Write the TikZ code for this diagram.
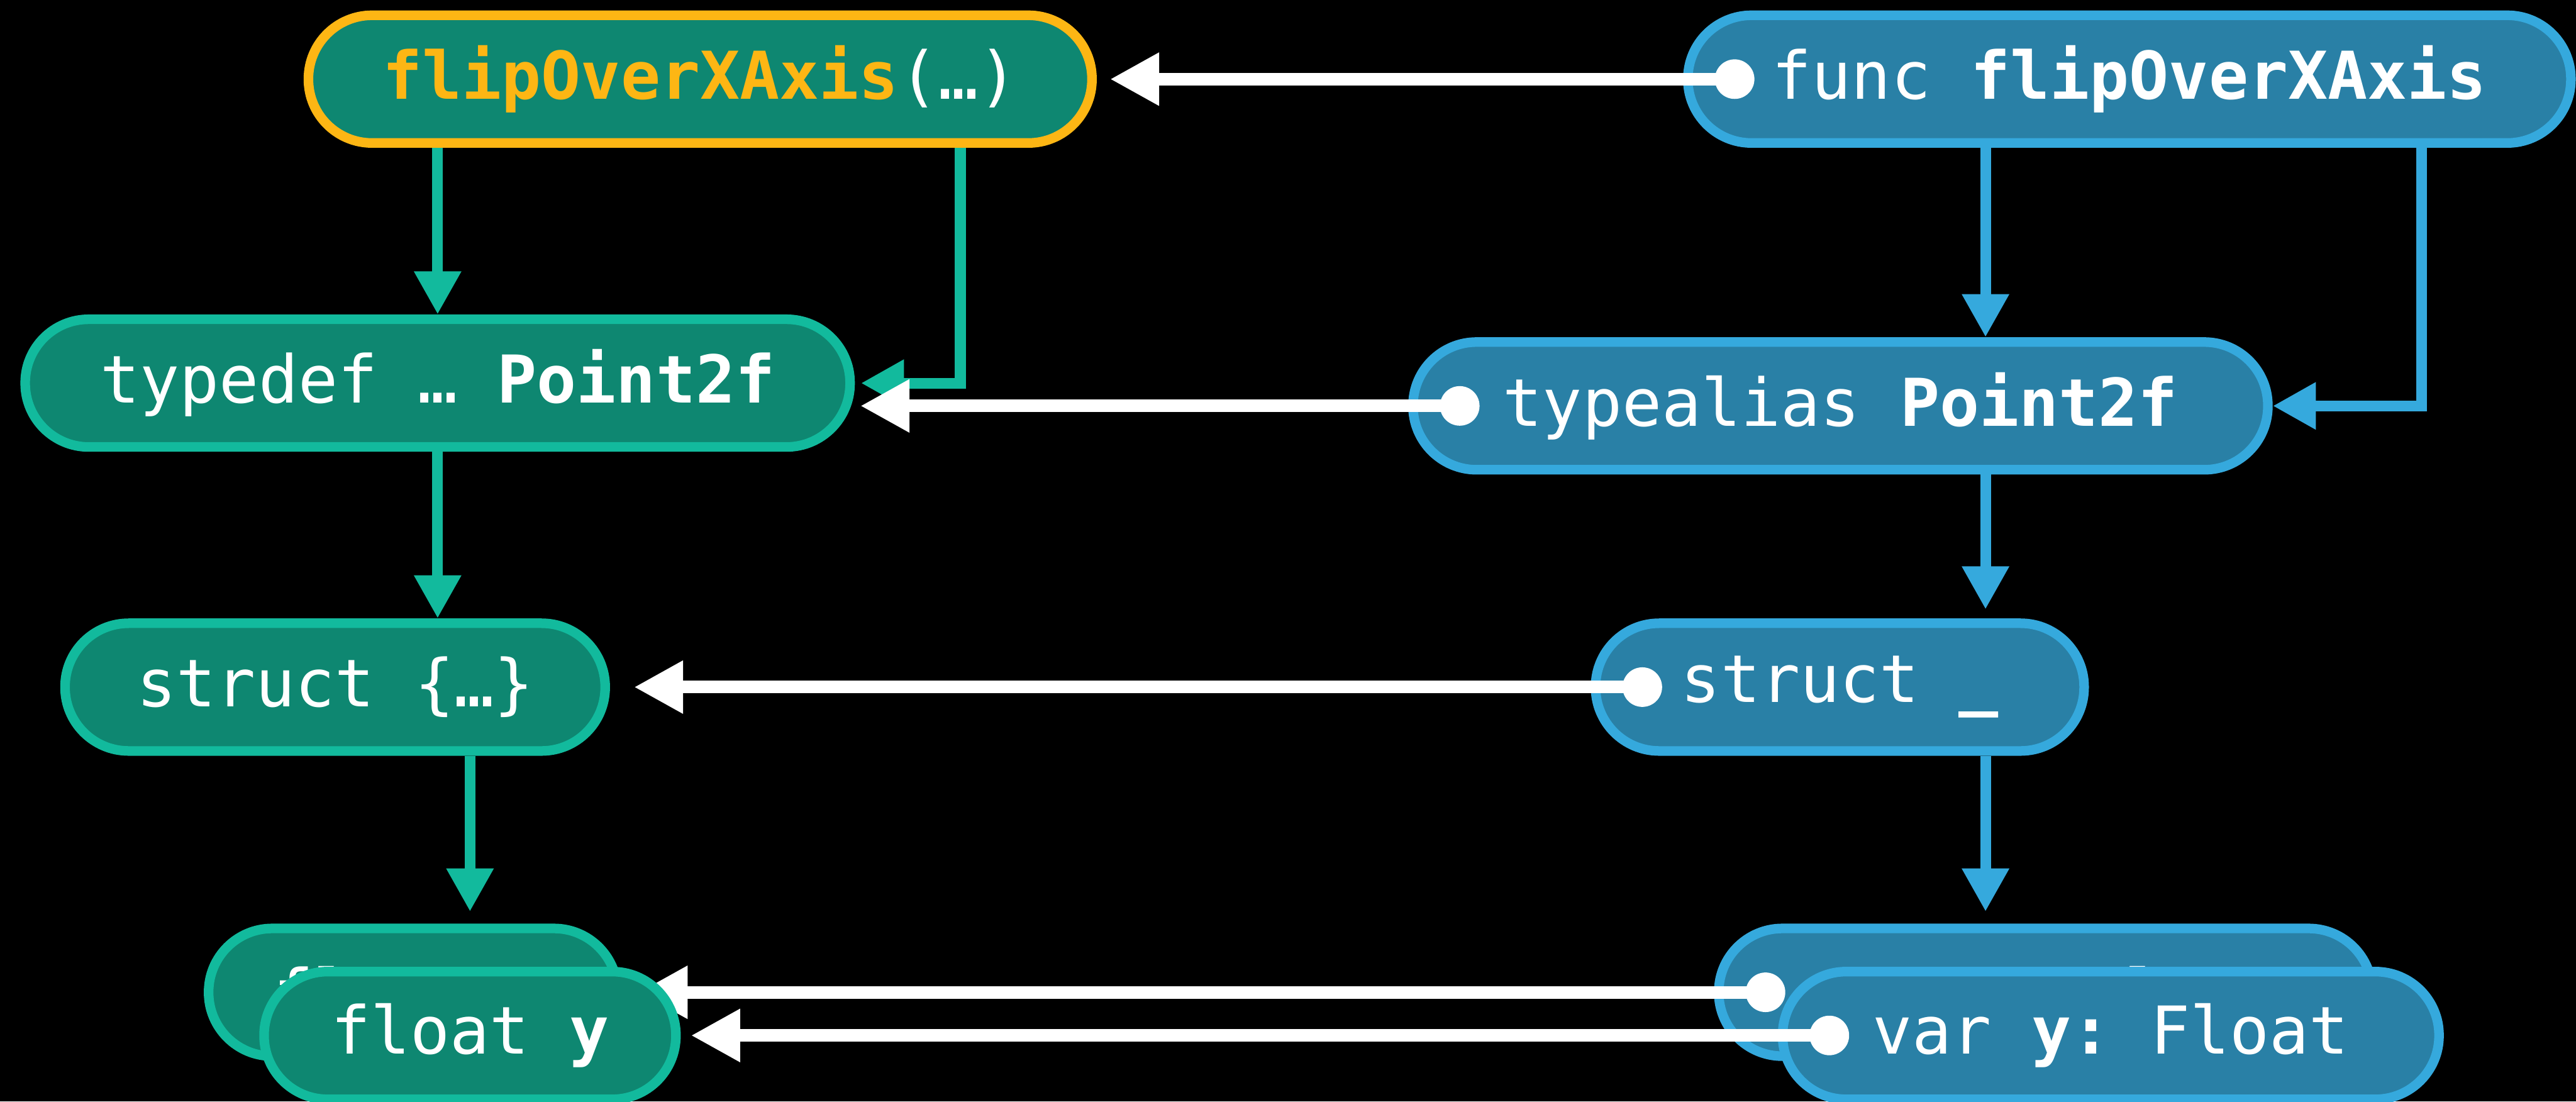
\documentclass[tikz,border=0pt]{standalone}
\usepackage{fontspec}
\setmonofont{DejaVu Sans Mono}
\usetikzlibrary{arrows.meta,positioning,calc}
\definecolor{cfill}{HTML}{0E8771}
\definecolor{cline}{HTML}{12BA9D}
\definecolor{sfill}{HTML}{2980A6}
\definecolor{sline}{HTML}{35A9DD}
\definecolor{flipor}{HTML}{FDB614}

\begin{document}
\begin{tikzpicture}[
  pill/.style={draw, line width=0.16cm, rounded corners=1.06cm, minimum height=2.13cm, inner sep=0pt, text=white, font=\fontsize{31.3}{36}\selectfont\ttfamily},
  cpill/.style={pill, fill=cfill, draw=cline},
  spill/.style={pill, fill=sfill, draw=sline},
  cflow/.style={draw=cline, line width=0.18cm, -{Triangle[length=0.72cm,width=0.74cm]}},
  sflow/.style={cflow, draw=sline},
  bridge/.style={draw=white, line width=0.21cm, -{Triangle[length=0.82cm,width=0.83cm]}},
  pin/.style={fill=white}
]
\useasboundingbox (0,0) rectangle (42.97,-18.37);
\fill[black] (0,0) rectangle (42.97,-18.37);

% C side
\node[cpill, draw=flipor, minimum width=13.07cm] (cFlip) at (11.68,-1.32) {{\color{flipor}\textbf{flipOverXAxis}}(…)};
\node[cpill, minimum width=13.76cm] (cTypedef) at (7.30,-6.39) {typedef … \textbf{Point2f}};
\node[cpill, minimum width=9.01cm] (cStruct) at (5.59,-11.46) {struct \{…\}};
\node[cpill, minimum width=6.82cm] (cFloatX) at (6.89,-16.55) {float \textbf{x}};

% Swift side
\node[spill, minimum width=14.73cm] (swFunc) at (35.52,-1.32) {func \textbf{flipOverXAxis}};
\node[spill, minimum width=14.26cm] (swTypealias) at (30.70,-6.77) {typealias \textbf{Point2f}};
\node[spill, minimum width=8.15cm] (swStruct) at (30.69,-11.46) {struct \textbf{\_}};
\node[spill, minimum width=10.90cm] (swVarX) at (34.12,-16.55) {var \textbf{x:} Float};

\coordinate (spine) at (33.12,0);

% C flow
\draw[cflow] (cFlip.south -| cTypedef.north) -- (cTypedef.north);
\draw[cflow, shorten >=0.1cm] ([xshift=4.34cm]cFlip.south) |- (cTypedef.east);
\draw[cflow] (cTypedef.south) -- (cStruct.north -| cTypedef.south);
\draw[cflow, shorten >=0.2cm] (cStruct.south -| 7.84,0) -- (cFloatX.north -| 7.84,0);

% Swift flow
\draw[sflow] (swFunc.south -| spine) -- (swTypealias.north -| spine);
\draw[sflow] ([xshift=4.87cm]swFunc.south) |- (swTypealias.east);
\draw[sflow, shorten >=0.15cm] (swTypealias.south -| spine) -- (swStruct.north -| spine);
\draw[sflow, shorten >=0.2cm] (swStruct.south -| spine) -- (swVarX.north -| spine);

% Swift to C
\coordinate (funcDot) at ([xshift=0.86cm]swFunc.west);
\coordinate (aliasDot) at ([xshift=0.86cm]swTypealias.west);
\coordinate (structDot) at ([xshift=0.86cm]swStruct.west);
\coordinate (varXDot) at ([xshift=0.86cm]swVarX.west);
\draw[bridge, shorten >=0.22cm] (funcDot) -- (funcDot -| cFlip.east);
\draw[bridge, shorten >=0.09cm] (aliasDot) -- (aliasDot -| cTypedef.east);
\draw[bridge, shorten >=0.40cm] (structDot) -- (structDot -| cStruct.east);
\draw[bridge, shorten >=0.27cm] (varXDot) -- (varXDot -| cFloatX.east);
\foreach \d in {funcDot, aliasDot, structDot, varXDot}
  \fill[pin] (\d) circle (0.33cm);

% front pair
\node[cpill, minimum width=6.87cm] (cFloatY) at (7.84,-17.27) {float \textbf{y}};
\node[spill, minimum width=10.95cm] (swVarY) at (35.21,-17.27) {var \textbf{y:} Float};
\coordinate (varYDot) at ([xshift=0.86cm]swVarY.west);
\draw[bridge, shorten >=0.17cm] (varYDot) -- (varYDot -| cFloatY.east);
\fill[pin] (varYDot) circle (0.33cm);
\end{tikzpicture}
\end{document}
